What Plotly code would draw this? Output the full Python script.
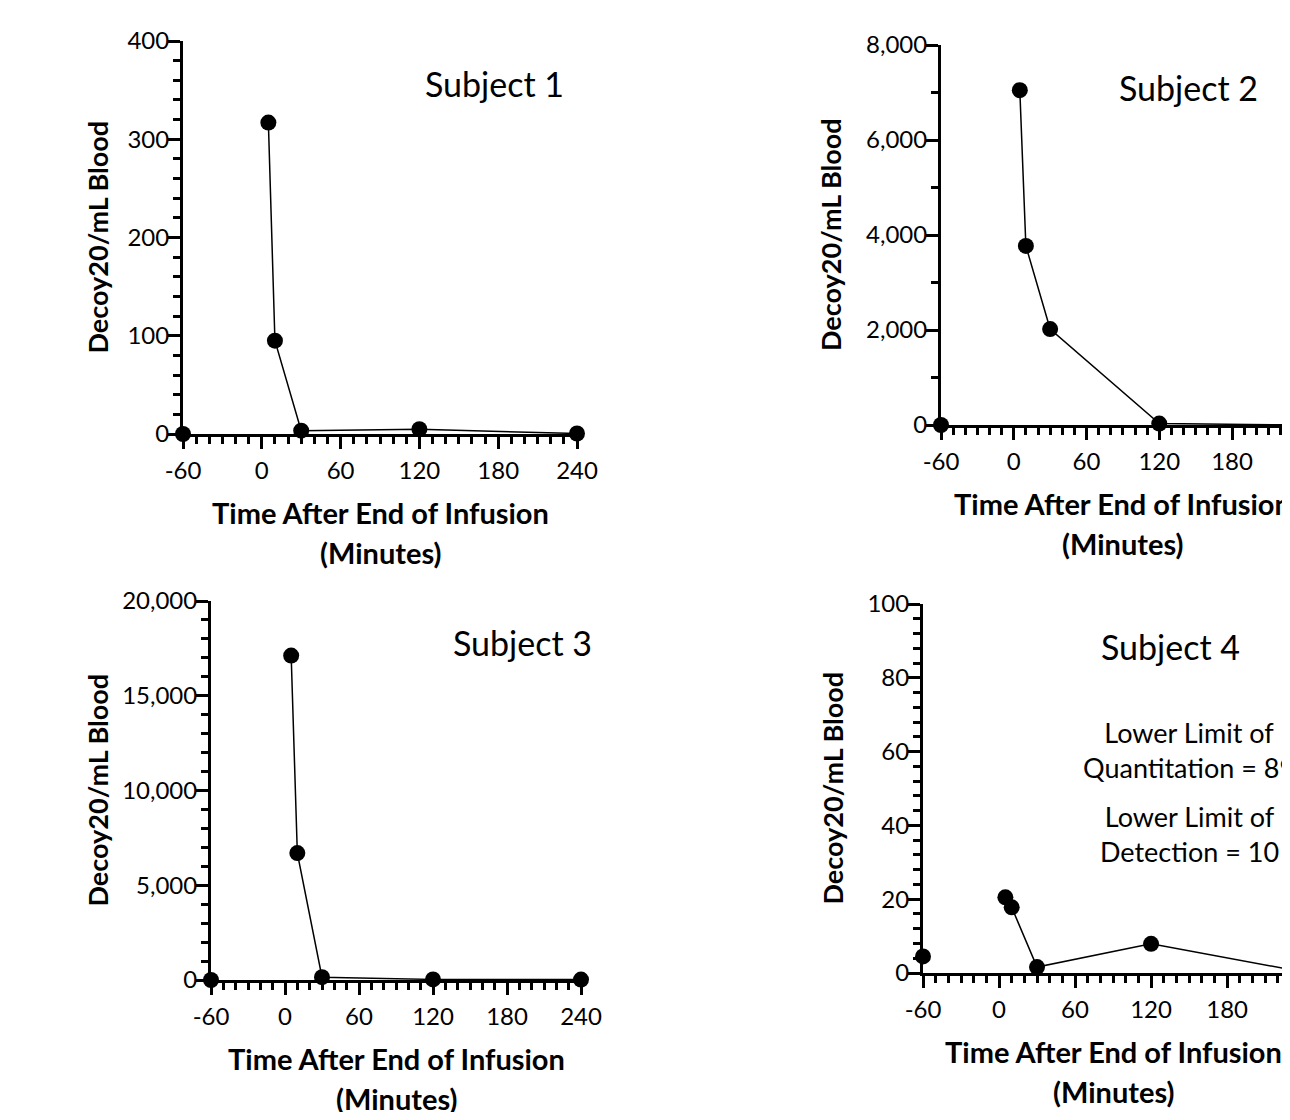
import plotly.graph_objects as go

# ---- data ----
time_min = [-60, 5, 10, 30, 120, 240]
subject1 = [0, 317, 95, 3.4, 4.8, 0.5]
subject2 = [0, 7050, 3770, 2020, 30, 0]
subject3 = [0, 17120, 6700, 150, 30, 20]
subject4 = [4.5, 20.5, 17.8, 1.6, 7.9, 0.3]

subject_names = ["Subject 1", "Subject 2", "Subject 3", "Subject 4"]
x_tick_vals = [-60, 0, 60, 120, 180, 240]
x_tick_text = ["-60", "0", "60", "120", "180", "240"]
y_tick_vals = [
    [0, 100, 200, 300, 400],
    [0, 2000, 4000, 6000, 8000],
    [0, 5000, 10000, 15000, 20000],
    [0, 20, 40, 60, 80, 100],
]
y_minor_dtick = [20, 1000, 1000, 4]
y_ranges = [[0, 400], [0, 8000], [0, 20000], [0, 100]]
x_title = "Time After End of Infusion"
x_title2 = "(Minutes)"
y_title = "Decoy20/mL Blood"
lloq_text = "Lower Limit of<br>Quantitation = 89"
llod_text = "Lower Limit of<br>Detection = 10"

# page has an 8px body margin; figure sized to fit the window exactly
OFF = 8
W, H = 1290 - 2 * OFF, 1120 - 2 * OFF
FONT = "Lato"

# page-pixel layout of each panel: x0, x1, y_top, y_bottom, px per minute, y-title x
panels = [
    (183, 577, 41, 434, 394 / 300, 97),
    (941, 1282, 45, 425, 1.2125, 831),
    (211, 581, 601, 980, 370 / 300, 97),
    (923, 1282, 604, 973, 1.267, 832),
]
series = [subject1, subject2, subject3, subject4]

fig = go.Figure()
annotations = []


def fx(px):
    return (px - OFF) / W


def fy(py):
    return 1 - (py - OFF) / H


def ann(text, x, y, size, angle=0):
    return dict(text=text, x=fx(x), y=fy(y), xref="paper", yref="paper",
                xanchor="center", yanchor="middle", showarrow=False, textangle=angle,
                font=dict(family=FONT, size=size, color="black"))


for i, (vals, (x0, x1, yt, yb, ppm, ytx)) in enumerate(zip(series, panels)):
    n = i + 1
    xa = "x" if n == 1 else f"x{n}"
    ya = "y" if n == 1 else f"y{n}"
    xend = -60 + (x1 - x0) / ppm
    mk = dict(color="black", size=16)
    # pre-dose point (not connected)
    fig.add_trace(go.Scatter(x=time_min[:1], y=vals[:1], mode="markers", marker=mk,
                             xaxis=xa, yaxis=ya, cliponaxis=False, showlegend=False))
    # post-infusion series
    fig.add_trace(go.Scatter(x=time_min[1:], y=vals[1:], mode="lines+markers", marker=mk,
                             line=dict(color="black", width=1.5),
                             xaxis=xa, yaxis=ya, cliponaxis=False, showlegend=False))

    common = dict(showline=True, linewidth=3, linecolor="black", ticks="outside",
                  ticklen=12, tickwidth=3, tickcolor="black", showgrid=False,
                  zeroline=False, automargin=False,
                  tickfont=dict(family=FONT, size=24, color="black"))
    xkey = "xaxis" if n == 1 else f"xaxis{n}"
    ykey = "yaxis" if n == 1 else f"yaxis{n}"
    fig.update_layout(**{
        xkey: dict(domain=[fx(x0), fx(x1)], range=[-60, xend], anchor=ya,
                   tickmode="array", tickvals=x_tick_vals, ticktext=x_tick_text,
                   ticklabelstandoff=1,
                   minor=dict(tickmode="linear", tick0=0, dtick=10, ticks="outside",
                              ticklen=7, tickwidth=3, tickcolor="black"),
                   **common),
        ykey: dict(domain=[fy(yb), fy(yt)], range=y_ranges[i], anchor=xa,
                   tickmode="array", tickvals=y_tick_vals[i], tickformat=",",
                   ticklabelstandoff=-6,
                   minor=dict(tickmode="linear", tick0=0, dtick=y_minor_dtick[i],
                              ticks="outside", ticklen=7, tickwidth=3, tickcolor="black"),
                   **common),
    })

    xc = x0 + 150 * ppm
    annotations.append(ann(f"<b>{x_title}</b>", xc, yb + 78, 29))
    annotations.append(ann(f"<b>{x_title2}</b>", xc, yb + 118, 29))
    annotations.append(ann(f"<b>{y_title}</b>", ytx, (yt + yb) / 2, 27, -90))
    sx = x0 + 311 if n in (1, 3) else x0 + 247
    annotations.append(ann(subject_names[i], sx, yt + 42, 34))

# Subject 4 limit notes
annotations.append(ann(lloq_text, 1189, 750, 27))
annotations.append(ann(llod_text, 1189, 834, 27))

fig.update_layout(width=W, height=H, margin=dict(l=0, r=0, t=0, b=0, autoexpand=False),
                  paper_bgcolor="white", plot_bgcolor="white",
                  annotations=annotations, showlegend=False)

fig.write_html("out.html")
